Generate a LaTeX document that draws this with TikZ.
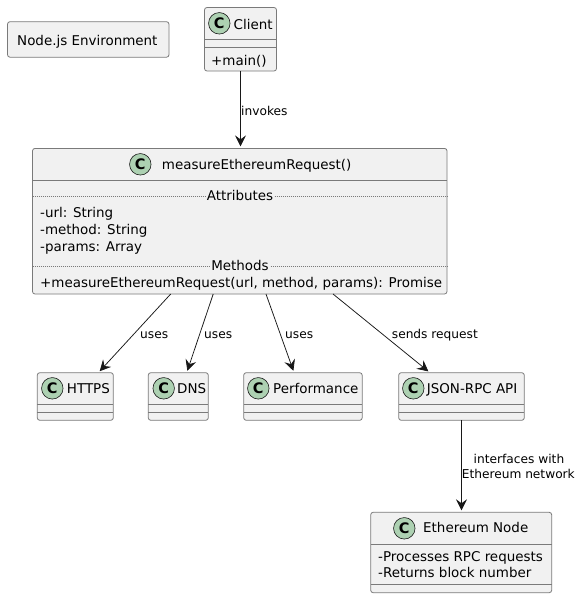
\documentclass[tikz,border=0pt]{standalone}
\usepackage{fontspec}
\setmainfont{DejaVu Sans}
\usetikzlibrary{arrows.meta,calc}
\definecolor{boxfill}{HTML}{F1F1F1}
\definecolor{boxline}{HTML}{7A7A7A}
\definecolor{ink}{HTML}{181818}
\definecolor{spot}{HTML}{ADD1B2}
\tikzset{
  x=1pt,y=-1pt,
  box/.style={draw=boxline,fill=boxfill,line width=0.8pt,rounded corners=2.5pt,inner sep=0pt,outer sep=0pt,anchor=north west},
  spotc/.style={circle,draw=ink,fill=spot,line width=0.6pt,minimum size=21.5pt,inner sep=0pt,text=black,font=\fontsize{14.5}{14.5}\selectfont\bfseries},
  sep/.style={draw=boxline,line width=0.8pt},
  dots/.style={draw=boxline,line width=0.6pt,dash pattern=on 1pt off 1pt},
  txt/.style={anchor=base west,inner sep=0pt,text=black,font=\fontsize{13.45}{13.45}\selectfont},
  ctxt/.style={anchor=base,inner sep=0pt,text=black,font=\fontsize{13.45}{13.45}\selectfont},
  lab/.style={anchor=base west,inner sep=0pt,text=black,font=\fontsize{12.2}{12.2}\selectfont},
  clab/.style={anchor=base,inner sep=0pt,text=black,font=\fontsize{12.2}{12.2}\selectfont},
  conn/.style={draw=ink,line width=0.75pt,-{Stealth[length=11pt,width=11pt,inset=4pt]},shorten >=2pt},
}
\begin{document}
\begin{tikzpicture}
\useasboundingbox[fill=white] (0,0) rectangle (583,598);
% boxes
\node[box,minimum width=161.5pt,minimum height=35.5pt] (env) at (7.5,21.7) {};
\node[box,minimum width=72pt,minimum height=63.5pt] (client) at (204.5,7.5) {};
\node[box,minimum width=414.5pt,minimum height=145.6pt] (main) at (32.5,148.4) {};
\node[box,minimum width=76pt,minimum height=47.6pt] (https) at (37.3,372.7) {};
\node[box,minimum width=60pt,minimum height=47.6pt] (dns) at (148.3,372.7) {};
\node[box,minimum width=118.5pt,minimum height=47.6pt] (perf) at (243.7,372.7) {};
\node[box,minimum width=125.6pt,minimum height=47.6pt] (json) at (398.7,372.7) {};
\node[box,minimum width=181pt,minimum height=80.4pt] (eth) at (370.7,512.3) {};
% separators
\draw[sep] (client.west |- 0,39) -- (client.east |- 0,39);
\draw[sep] (client.west |- 0,47.5) -- (client.east |- 0,47.5);
\draw[sep] (main.west |- 0,180.7) -- (main.east |- 0,180.7);
\draw[dots] (main.west |- 0,196) -- (main.east |- 0,196);
\draw[dots] (main.west |- 0,266.3) -- (main.east |- 0,266.3);
\foreach \b in {https,dns,perf,json}{
  \draw[sep] (\b.west |- 0,404.3) -- (\b.east |- 0,404.3);
  \draw[sep] (\b.west |- 0,412.3) -- (\b.east |- 0,412.3);
}
\draw[sep] (eth.west |- 0,544) -- (eth.east |- 0,544);
\draw[sep] (eth.west |- 0,584.3) -- (eth.east |- 0,584.3);
% spots
\node[spotc] (sclient) at (219.3,23.3) {C};
\node[spotc] (smain) at (140.3,164.3) {C};
\node[spotc] (shttps) at (52.3,388.3) {C};
\node[spotc] (sdns) at (163.7,388.3) {C};
\node[spotc] (sperf) at (258.3,388.3) {C};
\node[spotc] (sjson) at (413.3,388.3) {C};
\node[spotc] (seth) at (404.3,528.3) {C};
% text
\node[txt] (tenv) at (17,45) {Node.js Environment};
\node[txt] (tclient) at (233.5,29) {Client};
\node[txt] (tmainm) at (211,65.7) {+main()};
\node[txt] (tmain) at (161.7,169.3) {measureEthereumRequest()};
\node[ctxt,fill=boxfill,inner xsep=1pt] (tattr) at (240,200.7) {Attributes};
\node[txt] (turl) at (40,217.7) {-url: String};
\node[txt] (tmeth) at (40,234.4) {-method: String};
\node[txt] (tpar) at (40,251) {-params: Array};
\node[ctxt,fill=boxfill,inner xsep=1pt] (tmethods) at (240,270.7) {Methods};
\node[txt] (tfun) at (40,287.7) {+measureEthereumRequest(url, method, params): Promise};
\node[txt] (thttps) at (66.7,393) {HTTPS};
\node[txt] (tdns) at (177,393) {DNS};
\node[txt] (tperf) at (273,393) {Performance};
\node[txt] (tjson) at (426.7,393) {JSON-RPC API};
\node[txt] (teth) at (423,532.7) {Ethereum Node};
\node[txt] (tproc) at (378,561.7) {-Processes RPC requests};
\node[txt] (tret) at (378,577.7) {-Returns block number};
% connectors
\draw[conn] (client.south) -- (client.south |- main.north);
\draw[conn] ($(main.south west)!.3334!(main.south east)$) -- ($(https.north west)!.803!(https.north east)$);
\draw[conn] ($(main.south west)!.436!(main.south east)$) -- ($(dns.north west)!.64!(dns.north east)$);
\draw[conn] ($(main.south west)!.5633!(main.south east)$) -- ($(perf.north west)!.425!(perf.north east)$);
\draw[conn] ($(main.south west)!.725!(main.south east)$) -- ($(json.north west)!.249!(json.north east)$);
\draw[conn] (json.south) -- (json.south |- eth.north);
% connector labels
\node[lab] (linv) at (241,115) {invokes};
\node[lab] (lu1) at (140,338) {uses};
\node[lab] (lu2) at (204,338) {uses};
\node[lab] (lu3) at (285,338) {uses};
\node[lab] (lsend) at (391.7,338) {sends request};
\node[clab] (lif1) at (519,463) {interfaces with};
\node[clab] (lif2) at (518.3,478) {Ethereum network};
\end{tikzpicture}
\end{document}
